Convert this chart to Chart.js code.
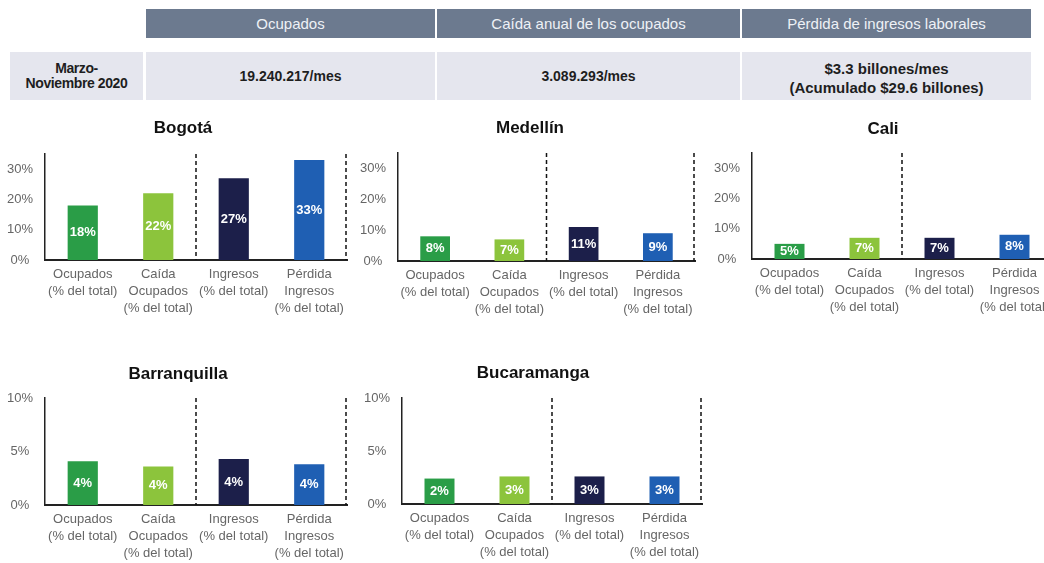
<!DOCTYPE html>
<html>
<head>
<meta charset="utf-8">
<script src="https://cdn.jsdelivr.net/npm/chart.js@4.4.1/dist/chart.umd.min.js"></script>
<style>
html,body{margin:0;padding:0;background:#fff;width:1044px;height:563px;overflow:hidden;font-family:"Liberation Sans",Arial,sans-serif;}
.cell{position:absolute;display:flex;flex-direction:column;align-items:center;justify-content:center;text-align:center;box-sizing:border-box;}
.hd{background:#6c7a8f;color:#eef1f6;font-size:15px;top:9px;height:29px;}
.rw{background:#e5e6ee;color:#1e1e1e;font-weight:bold;top:52px;height:48px;font-size:14px;}
.box{position:absolute;}
</style>
</head>
<body>
<div id="root"></div>
<script>
// ---------- DATA ----------
const headerLabels = ["Ocupados", "Caída anual de los ocupados", "Pérdida de ingresos laborales"];
const periodLabel = ["Marzo-", "Noviembre 2020"];
const summaryValues = [["19.240.217/mes"], ["3.089.293/mes"], ["$3.3 billones/mes", "(Acumulado $29.6 billones)"]];

const categories = [
  ["Ocupados", "(% del total)"],
  ["Caída", "Ocupados", "(% del total)"],
  ["Ingresos", "(% del total)"],
  ["Pérdida", "Ingresos", "(% del total)"]
];
const cityNames = ["Bogotá", "Medellín", "Cali", "Barranquilla", "Bucaramanga"];
const bogotaValues = [18, 22, 27, 33];
const medellinValues = [8, 7, 11, 9];
const caliValues = [5, 7, 7, 8];
const barranquillaValues = [4.1, 3.6, 4.3, 3.8];
const bucaramangaValues = [2.4, 2.6, 2.6, 2.6];
const largeTicks = [0, 10, 20, 30];
const smallTicks = [0, 5, 10];
const cityValues = [bogotaValues, medellinValues, caliValues, barranquillaValues, bucaramangaValues];
const cityTicks = [largeTicks, largeTicks, largeTicks, smallTicks, smallTicks];
const cityMax = [35, 35, 35, 10, 10];

// ---------- STYLE / LAYOUT ----------
const barColors = ["#2a9d47", "#8cc43c", "#1c1f4a", "#1f5fb3"];
const layouts = [
  {axisX: 45,  plotRight: 347,  plotTop: 154, plotBottom: 260, titleX: 183, titleY: 128},
  {axisX: 398, plotRight: 695,  plotTop: 153, plotBottom: 261, titleX: 530, titleY: 128},
  {axisX: 752, plotRight: 1052, plotTop: 153, plotBottom: 259, titleX: 883, titleY: 129},
  {axisX: 45,  plotRight: 347,  plotTop: 398, plotBottom: 505, titleX: 178, titleY: 374},
  {axisX: 402, plotRight: 702,  plotTop: 398, plotBottom: 504, titleX: 533, titleY: 373}
];
const Y_AXIS_W = 45, X_AXIS_H = 62, TITLE_SIZE = 17, TITLE_LH = 20;

const root = document.getElementById('root');

// ---------- HEADER TABLE ----------
const colX = [[146, 289], [437, 303], [742, 289]];
headerLabels.forEach((t, i) => {
  const d = document.createElement('div');
  d.className = 'cell hd';
  d.style.left = colX[i][0] + 'px'; d.style.width = colX[i][1] + 'px';
  d.textContent = t;
  root.appendChild(d);
});
{
  const d = document.createElement('div');
  d.className = 'cell rw';
  d.style.left = '10px'; d.style.width = '133px'; d.style.fontSize = '14px'; d.style.lineHeight = '15px';
  d.style.letterSpacing = '-0.4px';
  periodLabel.forEach(l => { const s = document.createElement('div'); s.textContent = l; d.appendChild(s); });
  root.appendChild(d);
}
summaryValues.forEach((lines, i) => {
  const d = document.createElement('div');
  d.className = 'cell rw';
  d.style.left = colX[i][0] + 'px'; d.style.width = colX[i][1] + 'px';
  if (lines.length > 1) { d.style.fontSize = '15px'; d.style.lineHeight = '19px'; d.style.paddingTop = '4px'; }
  lines.forEach(l => { const s = document.createElement('div'); s.textContent = l; d.appendChild(s); });
  root.appendChild(d);
});

// ---------- CHARTS ----------
Chart.defaults.font.family = '"Liberation Sans", Arial, sans-serif';

const decorPlugin = {
  id: 'decor',
  beforeDatasetsDraw(chart) {
    const {ctx, chartArea: a, scales: {x}} = chart;
    const sep = x.getPixelForValue(1.5);
    ctx.save();
    ctx.strokeStyle = '#111';
    ctx.lineWidth = 1.5;
    ctx.setLineDash([4, 3]);
    [sep, a.right - 1].forEach(px => {
      ctx.beginPath(); ctx.moveTo(px, a.top); ctx.lineTo(px, a.bottom); ctx.stroke();
    });
    ctx.restore();
  },
  afterDatasetsDraw(chart) {
    const {ctx} = chart;
    const meta = chart.getDatasetMeta(0);
    const vals = chart.data.datasets[0].data;
    ctx.save();
    ctx.font = 'bold 13px "Liberation Sans", Arial, sans-serif';
    ctx.fillStyle = '#ffffff';
    ctx.textAlign = 'center';
    ctx.textBaseline = 'middle';
    meta.data.forEach((bar, i) => {
      ctx.fillText(Math.round(vals[i]) + '%', bar.x, (bar.y + bar.base) / 2);
    });
    ctx.restore();
  }
};

cityNames.forEach((name, ci) => {
  const L = layouts[ci];
  const left = L.axisX - Y_AXIS_W;
  const width = 2 * (L.titleX - left);
  const rightW = left + width - L.plotRight;
  const top = L.titleY - TITLE_LH / 2;
  const height = L.plotBottom + X_AXIS_H - top;
  const padBottom = L.plotTop - top - TITLE_LH;

  const box = document.createElement('div');
  box.className = 'box';
  box.style.left = left + 'px'; box.style.top = top + 'px';
  box.style.width = width + 'px'; box.style.height = height + 'px';
  const cv = document.createElement('canvas');
  box.appendChild(cv);
  root.appendChild(box);

  const ticksList = cityTicks[ci];
  new Chart(cv, {
    type: 'bar',
    data: {
      labels: categories,
      datasets: [{
        data: cityValues[ci],
        backgroundColor: barColors,
        borderWidth: 0,
        barPercentage: 0.4,
        categoryPercentage: 1
      }]
    },
    options: {
      responsive: true,
      maintainAspectRatio: false,
      animation: false,
      layout: {padding: 0},
      plugins: {
        legend: {display: false},
        tooltip: {enabled: false},
        title: {
          display: true,
          text: name,
          color: '#111',
          font: {size: TITLE_SIZE, weight: 'bold', lineHeight: TITLE_LH / TITLE_SIZE},
          padding: {top: 0, bottom: padBottom}
        }
      },
      scales: {
        x: {
          grid: {display: false, drawTicks: false},
          border: {display: true, color: '#222', width: 2},
          ticks: {
            color: '#666',
            font: {size: 13, lineHeight: 1.3},
            padding: 6,
            maxRotation: 0,
            autoSkip: false
          },
          afterFit: s => { s.height = X_AXIS_H; }
        },
        y: {
          min: 0,
          max: cityMax[ci],
          grid: {display: false, drawTicks: false},
          border: {display: true, color: '#222', width: 1.5},
          afterBuildTicks: s => { s.ticks = ticksList.map(v => ({value: v})); },
          ticks: {
            color: '#666',
            font: {size: 13},
            padding: 12,
            crossAlign: 'center',
            callback: v => v + '%'
          },
          afterFit: s => { s.width = Y_AXIS_W; }
        },
        y2: {
          position: 'right',
          display: true,
          grid: {display: false, drawTicks: false},
          border: {display: false},
          ticks: {display: false},
          afterFit: s => { s.width = rightW; }
        }
      }
    },
    plugins: [decorPlugin]
  });
});
</script>
</body>
</html>
